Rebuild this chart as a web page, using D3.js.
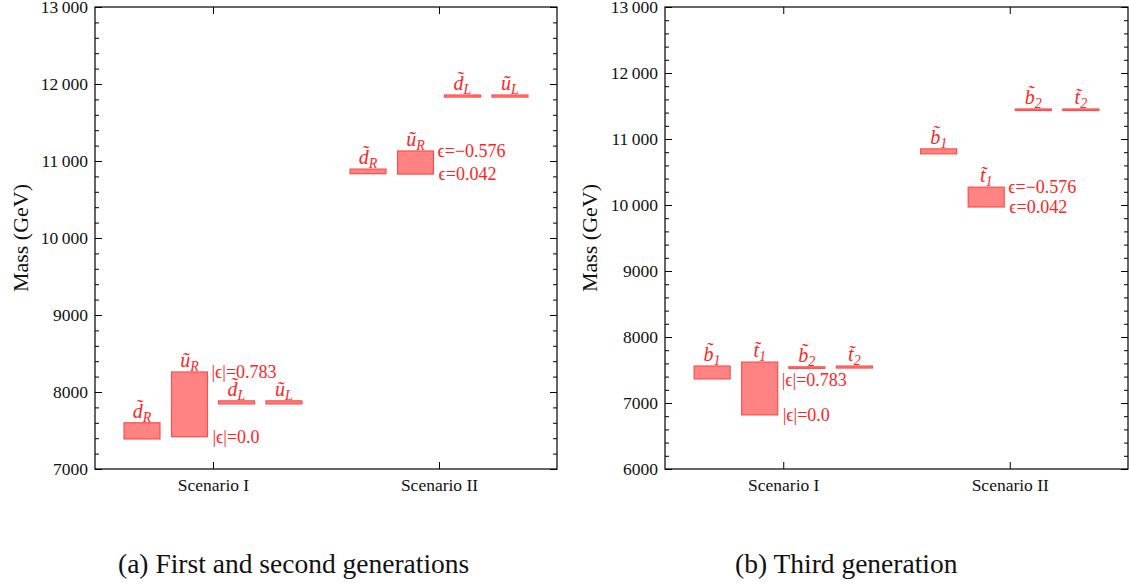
<!DOCTYPE html>
<meta charset="utf-8">
<title>Squark mass ranges</title>
<script src="https://d3js.org/d3.v7.min.js"></script>
<style>
body { margin:0; background:#fff; }
svg { font-family: "Liberation Serif", "Times New Roman", serif; }
.axis path { display:none; }
.axis line { stroke:#000; }
.axis text { font-size:17.5px; fill:#111; font-family:"Liberation Serif", serif; }
.frame { fill:none; stroke:#000; stroke-width:1.2; }
.bar { fill:#ff8383; stroke:#ff4d4d; stroke-width:1.2; }
.lab { fill:#ff2424; }
.caption { font-size:27.5px; fill:#111; }
</style>
<svg width="1129" height="588"></svg>
<script>

var scenarios = ["Scenario I", "Scenario II"];

// (a) first and second generations
var genAFlavour = ["d", "u", "d", "u"],
    genASub = ["R", "R", "L", "L"];
var genALow  = [[7390, 7420, 7845, 7845], [10835, 10830, 11830, 11830]],
    genAHigh = [[7600, 8260, 7885, 7885], [10895, 11130, 11857, 11857]];
var genATicks = [7000, 8000, 9000, 10000, 11000, 12000, 13000];

// (b) third generation
var genBFlavour = ["b", "t", "b", "t"],
    genBSub = ["1", "1", "2", "2"];
var genBLow  = [[7365, 6820, 7530, 7530], [10775, 9970, 11440, 11440]],
    genBHigh = [[7560, 7620, 7548, 7560], [10850, 10270, 11455, 11455]];
var genBTicks = [6000, 7000, 8000, 9000, 10000, 11000, 12000, 13000];

// mixing labels at the ends of the wide bar
var epsTop = ["|\u03f5|=0.783", "\u03f5=\u22120.576"],
    epsBottom = ["|\u03f5|=0.0", "\u03f5=0.042"];

var captions = ["(a) First and second generations", "(b) Third generation"];

var panels = [
  {flav: genAFlavour, sub: genASub, low: genALow, high: genAHigh, ticks: genATicks,
   x0: 95, x1: 557, labelX: 20, capX: 118, topShift: [0, 0]},
  {flav: genBFlavour, sub: genBSub, low: genBLow, high: genBHigh, ticks: genBTicks,
   x0: 665, x1: 1128, labelX: 589, capX: 735, topShift: [18, 0]}
];

var offsets = [-0.314, -0.104, 0.104, 0.314],
    barW = 0.159,
    yTop = 7, yBot = 469;

var svg = d3.select("svg");

function fmt(v) {
  return v >= 10000 ? d3.format(",")(v).replace(",", "\u2009") : String(v);
}

panels.forEach(function(p, pi) {
  var x = d3.scaleLinear().domain([0.478, 2.522]).range([p.x0, p.x1]);
  var y = d3.scaleLinear().domain([p.ticks[0], 13000]).range([yBot, yTop]);
  var minor = d3.range(p.ticks[0], 13001, 200).filter(function(v) { return v % 1000; });

  var g = svg.append("g");

  g.append("g").attr("class", "axis")
      .attr("transform", "translate(" + p.x0 + ",0)")
      .call(d3.axisLeft(y).tickValues(p.ticks).tickFormat(fmt).tickSize(-7).tickPadding(7).tickSizeOuter(0));
  g.append("g").attr("class", "axis")
      .attr("transform", "translate(" + p.x0 + ",0)")
      .call(d3.axisLeft(y).tickValues(minor).tickFormat("").tickSize(-4).tickSizeOuter(0));
  g.append("g").attr("class", "axis")
      .attr("transform", "translate(" + p.x1 + ",0)")
      .call(d3.axisRight(y).tickValues(p.ticks).tickFormat("").tickSize(-7).tickSizeOuter(0));
  g.append("g").attr("class", "axis")
      .attr("transform", "translate(" + p.x1 + ",0)")
      .call(d3.axisRight(y).tickValues(minor).tickFormat("").tickSize(-4).tickSizeOuter(0));
  g.append("g").attr("class", "axis")
      .attr("transform", "translate(0," + yBot + ")")
      .call(d3.axisBottom(x).tickValues([1, 2]).tickFormat(function(d) { return scenarios[d - 1]; })
        .tickSize(-7).tickPadding(10).tickSizeOuter(0));
  g.append("g").attr("class", "axis")
      .attr("transform", "translate(0," + yTop + ")")
      .call(d3.axisTop(x).tickValues([1, 2]).tickFormat("").tickSize(-7).tickSizeOuter(0));

  g.append("rect").attr("class", "frame")
      .attr("x", p.x0).attr("y", yTop)
      .attr("width", p.x1 - p.x0).attr("height", yBot - yTop);

  g.append("text")
      .attr("transform", "translate(" + p.labelX + "," + (yTop + yBot) / 2 + ") rotate(-90)")
      .attr("text-anchor", "middle").attr("dy", "0.35em")
      .style("font-size", "22px").style("fill", "#111")
      .text("Mass (GeV)");

  scenarios.forEach(function(s, si) {
    var items = p.flav.map(function(f, k) {
      return {f: f, sub: p.sub[k], lo: p.low[si][k], hi: p.high[si][k], c: si + 1 + offsets[k]};
    });

    g.selectAll(".bar" + si)
      .data(items)
      .enter().append("rect")
        .attr("class", "bar")
        .attr("x", function(d) { return x(d.c - barW / 2); })
        .attr("width", x(barW) - x(0))
        .attr("y", function(d) { return y(d.hi); })
        .attr("height", function(d) { return Math.max(y(d.lo) - y(d.hi), 1.5); });

    var t = g.selectAll(".name" + si)
      .data(items)
      .enter().append("text")
        .attr("class", "lab")
        .attr("text-anchor", "middle")
        .attr("x", function(d) { return x(d.c); })
        .attr("y", function(d) { return y(d.hi) - 5; })
        .style("font-style", "italic");
    t.append("tspan").style("font-size", "20px").text(function(d) { return d.f + "\u0303"; });
    t.append("tspan").style("font-size", "14px").attr("dy", 4).text(function(d) { return d.sub; });

    var w = items[1];
    g.append("text").attr("class", "lab")
        .attr("x", x(w.c + barW / 2) + 4)
        .attr("y", y(w.hi) + p.topShift[si]).attr("dy", "0.35em")
        .style("font-size", "18px").text(epsTop[si]);
    g.append("text").attr("class", "lab")
        .attr("x", x(w.c + barW / 2) + 5)
        .attr("y", y(w.lo)).attr("dy", "0.35em")
        .style("font-size", "18px").text(epsBottom[si]);
  });

  svg.append("text").attr("class", "caption")
      .attr("x", p.capX).attr("y", 573)
      .text(captions[pi]);
});

</script>
